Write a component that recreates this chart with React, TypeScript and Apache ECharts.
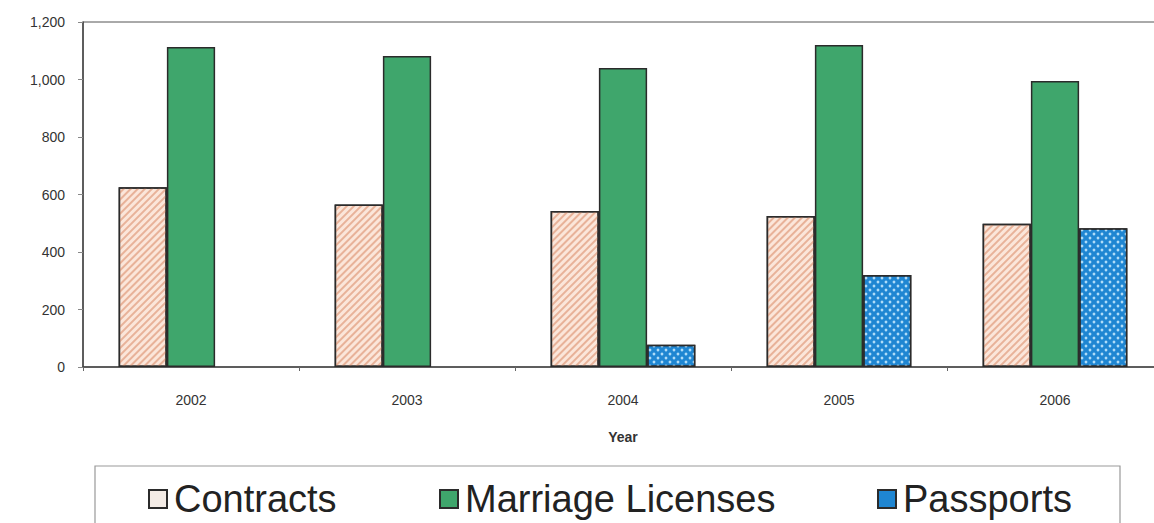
import React, { useEffect, useRef } from "react";
import * as echarts from "echarts";

const years = ["2002", "2003", "2004", "2005", "2006"];
const contracts = [625, 565, 543, 525, 498];
const marriageLicenses = [1113, 1082, 1040, 1120, 995];
const passports: (number | null)[] = [null, null, 77, 320, 483];
const yTicks = [0, 200, 400, 600, 800, 1000, 1200];

const FONT = "'Liberation Sans', Arial, sans-serif";

export default function App() {
  const ref = useRef<HTMLDivElement>(null);
  useEffect(() => {
    if (!ref.current) return;
    const chart = echarts.init(ref.current, null, { renderer: "svg" });
    const border = "#2b2b2b";
    const legendText = { fontFamily: FONT, fontSize: 38, color: "#222", padding: [0, 0, 0, 2] };
    chart.setOption({
      animation: false,
      backgroundColor: "#ffffff",
      textStyle: { fontFamily: FONT },
      grid: {
        left: 83,
        width: 1080,
        top: 22,
        bottom: 156,
        outerBoundsMode: "none",
        containLabel: false,
        show: true,
        borderColor: "#555",
        borderWidth: 1,
        backgroundColor: "transparent",
      },
      xAxis: {
        type: "category",
        data: years,
        name: "Year",
        nameLocation: "middle",
        nameGap: 63,
        nameTextStyle: { fontFamily: FONT, fontSize: 14, fontWeight: "bold", color: "#333" },
        axisLine: { lineStyle: { color: "#444", width: 1.5 } },
        axisTick: { show: true, length: 4, lineStyle: { color: "#666" } },
        axisLabel: { fontFamily: FONT, fontSize: 14, color: "#333", margin: 26 },
      },
      yAxis: {
        type: "value",
        min: 0,
        max: 1200,
        interval: 200,
        axisLine: { show: true, lineStyle: { color: "#444", width: 1.5 } },
        axisTick: { show: true, length: 5, lineStyle: { color: "#888" } },
        splitLine: { show: false },
        axisLabel: {
          fontFamily: FONT,
          fontSize: 14,
          color: "#333",
          margin: 18,
          formatter: (v: number) => (yTicks.includes(v) ? v.toLocaleString("en-US") : ""),
        },
      },
      legend: [
        {
          data: [{ name: "Contracts", icon: "rect", itemStyle: { decal: "none", color: "#f4ece6" } }],
          left: 143,
          top: 475,
          itemWidth: 18,
          itemHeight: 18,
          textStyle: legendText,
        },
        {
          data: [{ name: "Marriage Licenses", icon: "rect" }],
          left: 434,
          top: 475,
          itemWidth: 18,
          itemHeight: 18,
          textStyle: legendText,
        },
        {
          data: [{ name: "Passports", icon: "rect", itemStyle: { decal: "none" } }],
          left: 872,
          top: 475,
          itemWidth: 18,
          itemHeight: 18,
          textStyle: legendText,
        },
      ],
      graphic: [
        {
          type: "rect",
          shape: { x: 95, y: 466, width: 1025, height: 80 },
          style: { fill: "transparent", stroke: "#999", lineWidth: 1.2 },
          silent: true,
          z: -1,
        },
      ],
      series: [
        {
          name: "Contracts",
          type: "bar",
          data: contracts,
          barGap: "0%",
          barCategoryGap: "33%",
          itemStyle: {
            color: "#fbe6da",
            borderColor: border,
            borderWidth: 1.5,
            decal: {
              symbol: "rect",
              symbolSize: 1,
              color: "rgba(225,160,130,0.75)",
              dashArrayX: [1, 0],
              dashArrayY: [2, 3],
              rotation: -Math.PI / 4,
            },
          },
        },
        {
          name: "Marriage Licenses",
          type: "bar",
          data: marriageLicenses,
          barGap: "0%",
          barCategoryGap: "33%",
          itemStyle: { color: "#3fa66c", borderColor: border, borderWidth: 1.5 },
        },
        {
          name: "Passports",
          type: "bar",
          data: passports,
          barGap: "0%",
          barCategoryGap: "33%",
          itemStyle: {
            color: "#1f86d2",
            borderColor: border,
            borderWidth: 1.5,
            decal: {
              symbol: "circle",
              symbolSize: 0.7,
              color: "rgba(200,235,255,0.85)",
              dashArrayX: [[4, 4], [0, 4, 4, 0]],
              dashArrayY: [4, 0],
            },
          },
        },
      ],
    });
    return () => chart.dispose();
  }, []);
  return <div ref={ref} style={{ width: 1154, height: 523, position: "absolute", left: 0, top: 0 }} />;
}
